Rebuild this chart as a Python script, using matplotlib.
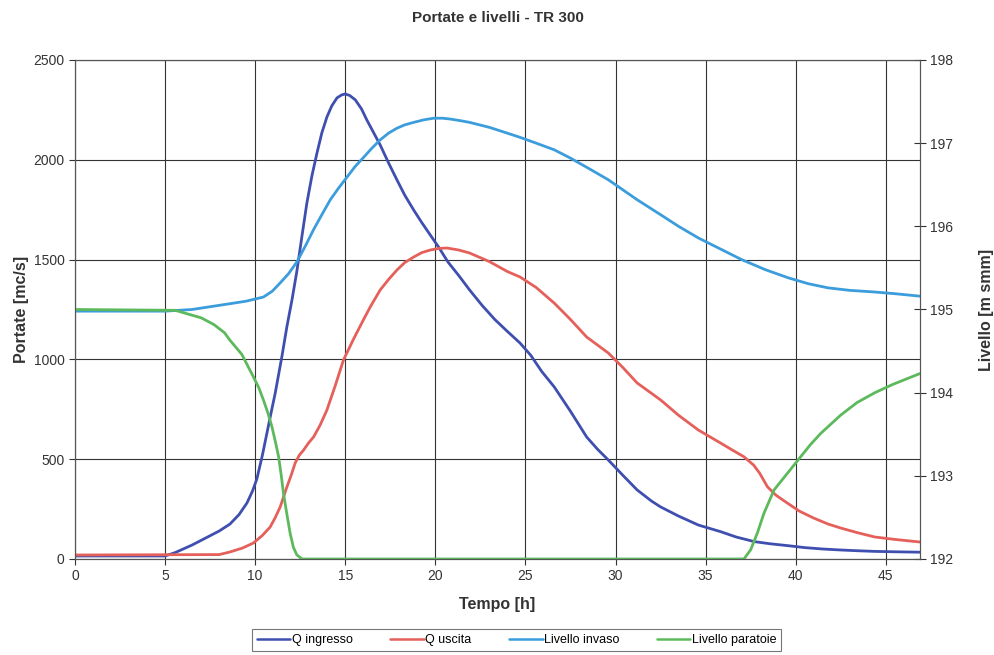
import numpy as np
import matplotlib.pyplot as plt

plt.rcParams['font.family'] = ['Liberation Sans', 'DejaVu Sans']

# Portate [mc/s]
t_in = [0, 5, 5.56, 6.5, 7.4, 8.0, 8.6, 9.1, 9.54, 9.85, 10.09, 10.4, 10.65, 10.9, 11.11, 11.48,
        11.76, 12.04, 12.31, 12.6, 12.87, 13.15, 13.43, 13.7, 13.98, 14.25, 14.54, 14.8, 15.0,
        15.25, 15.56, 15.9, 16.2, 16.55, 16.94, 17.4, 17.87, 18.3, 18.8, 19.25, 19.72, 20.2,
        20.7, 21.3, 21.9, 22.6, 23.3, 24.0, 24.7, 25.3, 25.9, 26.6, 27.5, 28.4, 29.0, 29.6,
        30.4, 31.2, 32.0, 32.5, 33.5, 34.6, 35.83, 36.7, 37.7, 38.6, 39.54, 40.5, 41.5, 42.5,
        43.5, 44.4, 45.5, 46.9]
q_ingresso = [15, 15, 32, 70, 112, 140, 175, 222, 280, 340, 400, 520, 630, 740, 830, 1013,
              1164, 1297, 1440, 1620, 1784, 1920, 2034, 2135, 2214, 2270, 2310, 2325, 2330,
              2322, 2300, 2255, 2199, 2140, 2074, 1985, 1899, 1823, 1748, 1685, 1623, 1560,
              1488, 1420, 1348, 1270, 1200, 1140, 1082, 1020, 940, 862, 740, 611, 550, 496,
              420, 346, 290, 261, 215, 170, 137, 110, 87, 76, 67, 57, 50, 45, 41, 38, 36, 34]

t_out = [0, 8.0, 8.6, 9.3, 9.9, 10.4, 10.83, 11.1, 11.39, 11.76, 12.0, 12.22, 12.45, 12.69,
         12.95, 13.24, 13.6, 13.98, 14.45, 14.9, 15.45, 16.0, 16.4, 16.94, 17.4, 17.87, 18.3,
         18.8, 19.25, 19.72, 20.2, 20.65, 21.3, 21.9, 23.0, 24.0, 24.7, 25.6, 26.6, 27.5,
         28.4, 29.6, 30.4, 31.2, 32.5, 33.5, 34.6, 35.83, 36.5, 37.13, 37.67, 38.0, 38.43,
         38.9, 39.54, 40.2, 41.0, 41.8, 42.5, 43.5, 44.4, 45.5, 46.9]
q_uscita = [20, 22, 35, 55, 80, 118, 160, 205, 261, 361, 420, 481, 520, 546,
            580, 611, 670, 746, 870, 997, 1100, 1197, 1265, 1348, 1400, 1448, 1485,
            1513, 1535, 1548, 1556, 1558, 1548, 1533, 1490, 1440, 1413, 1360, 1282, 1200,
            1112, 1032, 960, 882, 797, 720, 646, 581, 545, 512, 470, 430, 362,
            320, 280, 240, 205, 175, 155, 130, 110, 98, 85]

# Livelli [m smm]
t_inv = [0, 5, 6.5, 7.4, 8.61, 9.5, 10.46, 10.95, 11.39, 11.85, 12.31, 12.8, 13.24, 13.7,
         14.17, 14.63, 15.09, 15.55, 16.02, 16.48, 16.94, 17.4, 17.87, 18.3, 18.8, 19.35,
         19.9, 20.4, 20.83, 21.4, 21.9, 23.0, 24.0, 24.7, 25.6, 26.6, 27.5, 28.4, 29.6, 30.4,
         31.2, 32.5, 33.5, 34.6, 35.8, 37.0, 38.3, 39.6, 40.7, 41.8, 43.0, 44.4, 45.5, 46.9]
livello_invaso = [194.98, 194.98, 195.0, 195.03, 195.07, 195.1, 195.15, 195.22, 195.32, 195.43,
                  195.57, 195.77, 195.96, 196.14, 196.32, 196.46, 196.59, 196.72, 196.83, 196.94,
                  197.04, 197.12, 197.18, 197.22, 197.25, 197.28, 197.30, 197.30, 197.29, 197.27,
                  197.25, 197.19, 197.12, 197.07, 197.0, 196.92, 196.82, 196.71, 196.56, 196.44,
                  196.32, 196.14, 196.0, 195.86, 195.73, 195.6, 195.48, 195.38, 195.31, 195.26,
                  195.23, 195.21, 195.19, 195.16]

t_par = [0, 5.56, 7.0, 7.7, 8.3, 8.6, 9.26, 9.9, 10.2, 10.46, 10.7, 10.93, 11.1, 11.3, 11.45,
         11.57, 11.75, 11.94, 12.12, 12.31, 12.6, 37.13, 37.5, 37.87, 38.24, 38.8, 39.54, 40.28,
         40.8, 41.39, 42.5, 43.4, 44.4, 45.4, 46.9]
livello_paratoie = [195.0, 194.99, 194.9, 194.82, 194.72, 194.63, 194.46, 194.19, 194.06, 193.91,
                    193.76, 193.59, 193.43, 193.23, 193.0, 192.79, 192.55, 192.31, 192.14, 192.05,
                    192.0, 192.0, 192.11, 192.31, 192.55, 192.83, 193.03, 193.23,
                    193.37, 193.51, 193.73, 193.88, 194.0, 194.1, 194.23]

fig = plt.figure(figsize=(9.95, 6.55), dpi=100)
ax = fig.add_axes([0.0754, 0.1466, 0.8492, 0.7618])
ax2 = ax.twinx()

style = dict(lw=2, solid_joinstyle='round', solid_capstyle='round')
l1, = ax.plot(t_in, q_ingresso, color='#3f4faf', label='Q ingresso', **style)
l2, = ax.plot(t_out, q_uscita, color='#e5605b', label='Q uscita', **style)
l3, = ax2.plot(t_inv, livello_invaso, color='#3b9ddc', label='Livello invaso', **style)
l4, = ax2.plot(t_par, livello_paratoie, color='#5cba5c', label='Livello paratoie', **style)

ax.set_xlim(0, 46.9)
ax.set_ylim(0, 2500)
ax2.set_ylim(192, 198)
ax.set_xticks(np.arange(0, 46, 5))
ax.set_yticks(np.arange(0, 2501, 500))
ax2.set_yticks(np.arange(192, 199, 1))

ax.grid(True, color='#333333', lw=0.8)
ax.set_axisbelow(True)
for a in (ax, ax2):
    for s in a.spines.values():
        s.set_color('#555555')
        s.set_linewidth(0.8)

ax.tick_params(axis='both', labelsize=10, colors='#333333', length=4, width=0.8)
ax2.tick_params(axis='y', labelsize=10, colors='#333333', direction='inout', length=8, width=0.8)

ax.set_xlabel('Tempo [h]', fontsize=11.5, fontweight='bold', color='#333333', labelpad=10)
ax.set_ylabel('Portate [mc/s]', fontsize=11.5, fontweight='bold', color='#333333', labelpad=3)
ax2.set_ylabel('Livello [m smm]', fontsize=11.5, fontweight='bold', color='#333333', labelpad=18)
fig.suptitle('Portate e livelli - TR 300', fontsize=11, fontweight='bold', color='#333333', y=0.983)

leg = fig.legend(handles=[l1, l2, l3, l4], loc='lower center', bbox_to_anchor=(0.519, 0.0),
                 ncol=4, fontsize=9, frameon=True, fancybox=False, handlelength=2.7,
                 columnspacing=3.0, handletextpad=0.1, borderpad=0.4, borderaxespad=0.3)
leg.get_frame().set_edgecolor('#555555')
leg.get_frame().set_linewidth(0.8)
for line in leg.get_lines():
    line.set_linewidth(1.8)

fig.savefig('out.png', dpi=100)
